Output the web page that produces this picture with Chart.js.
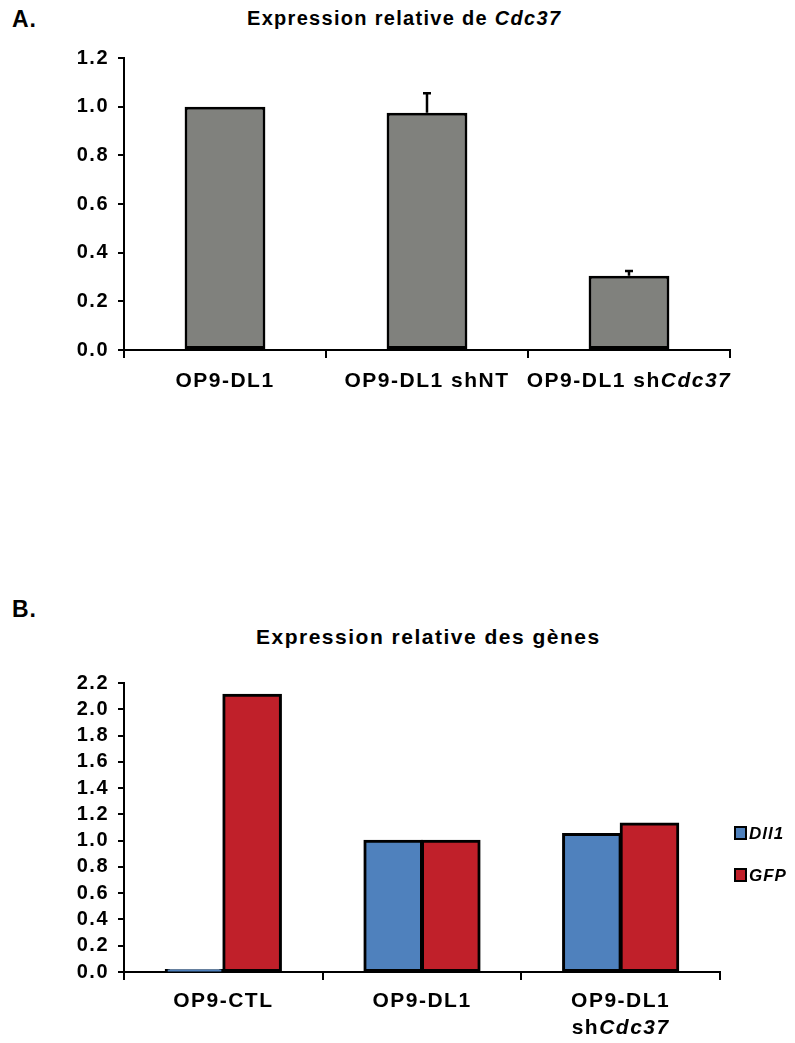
<!DOCTYPE html>
<html>
<head>
<meta charset="utf-8">
<script src="https://cdn.jsdelivr.net/npm/chart.js@4.4.0/dist/chart.umd.min.js"></script>
<style>
  body { margin: 0; background: #fff; width: 795px; height: 1043px; position: relative; overflow: hidden;
         font-family: 'Liberation Sans', Arial, sans-serif; color: #000; }
  .lbl { position: absolute; font-weight: bold; white-space: nowrap; line-height: 1; }
  .wrap { position: absolute; left: 0; width: 795px; }
</style>
</head>
<body>
<div class="lbl" style="left:12px; top:8px; font-size:23px; letter-spacing:1px;">A.</div>
<div class="lbl" style="left:247px; top:8px; font-size:20px; letter-spacing:1.3px;">Expression relative de <i>Cdc37</i></div>
<div class="lbl" style="left:12px; top:598px; font-size:23px; letter-spacing:1px;">B.</div>
<div class="lbl" style="left:256px; top:626px; font-size:21px; letter-spacing:1.5px;">Expression relative des gènes</div>

<div class="wrap" style="top:0; height:400px;"><canvas id="chartA"></canvas></div>
<div class="wrap" style="top:640px; height:403px;"><canvas id="chartB"></canvas></div>

<script>
// Panel A
const categoriesA = ['OP9-DL1', 'OP9-DL1 shNT', 'OP9-DL1 sh<i>Cdc37</i>'];
const valuesA = [1.0, 0.975, 0.305];
const errorsA = [0, 0.08, 0.02];

// Panel B
const categoriesB = [['OP9-CTL'], ['OP9-DL1'], ['OP9-DL1', 'sh<i>Cdc37</i>']];
const seriesNamesB = ['Dll1', 'GFP'];
const dll1Values = [0.015, 1.0, 1.05];
const gfpValues = [2.11, 1.0, 1.13];

const tickFont = { family: "'Liberation Sans', Arial, sans-serif", size: 20, weight: 'bold' };

// draw a label with <i>..</i> parts in italic, centered on x
function drawRich(ctx, text, x, y, size) {
  const parts = text.split(/(<i>.*?<\/i>)/).filter(s => s.length);
  const segs = parts.map(p => {
    const it = p.startsWith('<i>');
    return { t: it ? p.slice(3, -4) : p, it };
  });
  const fontOf = it => `${it ? 'italic ' : ''}bold ${size}px 'Liberation Sans', Arial, sans-serif`;
  let total = 0;
  segs.forEach(s => { ctx.font = fontOf(s.it); s.w = ctx.measureText(s.t).width; total += s.w; });
  let cx = x - total / 2;
  ctx.fillStyle = '#000';
  ctx.textBaseline = 'middle';
  ctx.textAlign = 'left';
  segs.forEach(s => { ctx.font = fontOf(s.it); ctx.fillText(s.t, cx, y); cx += s.w; });
}

// wider letter spacing, as in the source figure
const spacingPlugin = {
  id: 'spacing',
  beforeDraw(chart) { chart.ctx.letterSpacing = '1.5px'; }
};

const xLabelsPlugin = {
  id: 'xLabels',
  afterDraw(chart, args, opts) {
    const ctx = chart.ctx;
    const xs = chart.scales.x;
    ctx.save();
    ctx.letterSpacing = '1.5px';
    opts.labels.forEach((lab, i) => {
      const x = xs.getPixelForValue(i);
      const lines = Array.isArray(lab) ? lab : [lab];
      lines.forEach((l, j) => drawRich(ctx, l, x, chart.chartArea.bottom + opts.offset + j * opts.lineHeight, opts.size));
    });
    ctx.restore();
  }
};

const errorBarPlugin = {
  id: 'errorBars',
  afterDatasetsDraw(chart, args, opts) {
    if (!opts.errors) return;
    const ctx = chart.ctx;
    const meta = chart.getDatasetMeta(0);
    const ys = chart.scales.y;
    ctx.save();
    ctx.strokeStyle = '#000';
    ctx.lineWidth = 2.5;
    opts.errors.forEach((e, i) => {
      if (!e) return;
      const bar = meta.data[i];
      const v = chart.data.datasets[0].data[i];
      const yTop = ys.getPixelForValue(v + e);
      ctx.beginPath();
      ctx.moveTo(bar.x, bar.y);
      ctx.lineTo(bar.x, yTop);
      ctx.moveTo(bar.x - 4, yTop);
      ctx.lineTo(bar.x + 4, yTop);
      ctx.stroke();
    });
    ctx.restore();
  }
};

const legendPlugin = {
  id: 'sideLegend',
  afterDraw(chart, args, opts) {
    if (!opts.items) return;
    const ctx = chart.ctx;
    ctx.save();
    ctx.letterSpacing = '1px';
    opts.items.forEach((it, i) => {
      const y = opts.y + i * opts.gap;
      ctx.fillStyle = '#000';
      ctx.fillRect(opts.x, y - 7, 13, 14);
      ctx.fillStyle = it.color;
      ctx.fillRect(opts.x + 2, y - 5, 9, 10);
      ctx.fillStyle = '#000';
      ctx.font = "italic bold 17px 'Liberation Sans', Arial, sans-serif";
      ctx.textBaseline = 'middle';
      ctx.textAlign = 'left';
      ctx.fillText(it.label, opts.x + 15, y + 1);
    });
    ctx.restore();
  }
};

function axisOptions(max, step, yWidth, xHeight) {
  return {
    x: {
      grid: { display: true, offset: true, drawOnChartArea: false, drawTicks: true, tickLength: 8, color: '#000', lineWidth: 2 },
      border: { display: true, color: '#000', width: 2 },
      ticks: { display: false },
      afterFit: s => { s.height = xHeight; }
    },
    y: {
      min: 0, max: max,
      grid: { drawOnChartArea: false, drawTicks: true, tickLength: 6, color: '#000', lineWidth: 2 },
      border: { display: true, color: '#000', width: 2 },
      ticks: { stepSize: step, autoSkip: false, color: '#000', font: tickFont, padding: 9, callback: v => v.toFixed(1) },
      afterFit: s => { s.width = yWidth; }
    }
  };
}

new Chart(document.getElementById('chartA'), {
  type: 'bar',
  data: {
    labels: categoriesA,
    datasets: [{
      data: valuesA,
      backgroundColor: '#80817d',
      borderColor: '#000',
      borderWidth: 3,
      borderSkipped: false,
      barPercentage: 0.4,
      categoryPercentage: 1
    }]
  },
  options: {
    responsive: true,
    maintainAspectRatio: false,
    animation: false,
    layout: { padding: { top: 58, right: 65, left: 0, bottom: 0 } },
    scales: axisOptions(1.2, 0.2, 124, 50),
    plugins: {
      legend: { display: false },
      tooltip: { enabled: false },
      xLabels: { labels: categoriesA, offset: 31, lineHeight: 27, size: 21 },
      errorBars: { errors: errorsA }
    }
  },
  plugins: [spacingPlugin, xLabelsPlugin, errorBarPlugin]
});

new Chart(document.getElementById('chartB'), {
  type: 'bar',
  data: {
    labels: categoriesB.map(c => c.join(' ')),
    datasets: [
      { label: seriesNamesB[0], data: dll1Values, backgroundColor: '#4f81bd', borderColor: '#000', borderWidth: 3, borderSkipped: false, inflateAmount: 1, barPercentage: 1, categoryPercentage: 0.58 },
      { label: seriesNamesB[1], data: gfpValues, backgroundColor: '#c0202a', borderColor: '#000', borderWidth: 3, borderSkipped: false, inflateAmount: 1, barPercentage: 1, categoryPercentage: 0.58 }
    ]
  },
  options: {
    responsive: true,
    maintainAspectRatio: false,
    animation: false,
    layout: { padding: { top: 43, right: 75, left: 0, bottom: 0 } },
    scales: axisOptions(2.2, 0.2, 124, 71),
    plugins: {
      legend: { display: false },
      tooltip: { enabled: false },
      xLabels: { labels: categoriesB, offset: 29, lineHeight: 27, size: 21 },
      sideLegend: { x: 734, y: 193, gap: 42, items: [{ label: seriesNamesB[0], color: '#4f81bd' }, { label: seriesNamesB[1], color: '#c0202a' }] }
    }
  },
  plugins: [spacingPlugin, xLabelsPlugin, legendPlugin]
});
</script>
</body>
</html>
